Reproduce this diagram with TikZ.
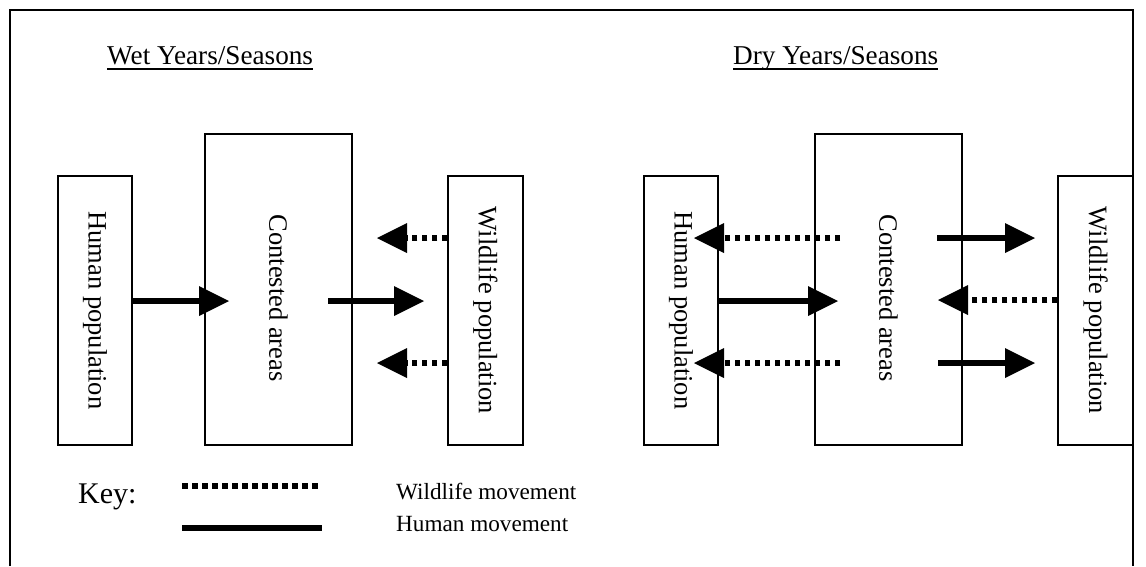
\documentclass[tikz,border=0pt]{standalone}
\usepackage{fontspec}
\setmainfont{Liberation Serif}
\usetikzlibrary{arrows.meta,calc}
\begin{document}
\begin{tikzpicture}[x=1pt,y=-1pt,
  box/.style={draw, line width=1.2pt, inner sep=0pt, font=\fontsize{26.5}{30}\selectfont},
  tipshape/.style={-{Triangle[length=30pt,width=30pt,line width=0pt]}},
  human/.style={line width=5.5pt, tipshape},
  wild/.style={line width=5.5pt, dash pattern=on 5.5pt off 4.5pt, tipshape},
  title/.style={inner sep=0pt, anchor=base west, font=\fontsize{27.2}{30}\selectfont},
  keytext/.style={inner sep=0pt, anchor=base west, font=\fontsize{23.2}{26}\selectfont},
]
\useasboundingbox (0,0) rectangle (1146,566);

% outer frame
\draw[line width=1.2pt] (10,566) -- (10,10) -- (1133,10) -- (1133,566);

% headings
\node[title] (wt) at (107,64) {Wet Years/Seasons};
\node[title] (dt) at (733,64) {Dry Years/Seasons};
\draw[line width=1.3pt] ([yshift=-5pt]wt.base west) -- ([yshift=-5pt]wt.base east);
\draw[line width=1.3pt] ([yshift=-5pt]dt.base west) -- ([yshift=-5pt]dt.base east);

% wet season boxes
\node[box, minimum width=74pt, minimum height=269pt] (wh) at (95,310.5) {\rotatebox{-90}{Human population}};
\node[box, minimum width=147pt, minimum height=311pt] (wc) at (278.5,289.5) {};
\node[box, minimum width=75pt, minimum height=269pt] (ww) at (485.5,310.5) {\rotatebox{-90}{Wildlife population}};
\node[inner sep=0pt, font=\fontsize{26.5}{30}\selectfont] (wcl) at (278.5,298) {\rotatebox{-90}{Contested areas}};

% dry season boxes
\node[box, minimum width=74pt, minimum height=269pt] (dh) at (681,310.5) {\rotatebox{-90}{Human population}};
\node[box, minimum width=147pt, minimum height=311pt] (dc) at (888.5,289.5) {};
\node[box, minimum width=75pt, minimum height=269pt] (dw) at (1095.5,310.5) {\rotatebox{-90}{Wildlife population}};
\node[inner sep=0pt, font=\fontsize{26.5}{30}\selectfont] (dcl) at (888.5,298) {\rotatebox{-90}{Contested areas}};

% free arrow ends
\coordinate (w1) at (229,301);
\coordinate (w2s) at (328,301);
\coordinate (w2) at (424,301);
\coordinate (w3) at (377,238);
\coordinate (w4) at (377,363);

\coordinate (d1s) at (840,238);
\coordinate (d1) at (694,238);
\coordinate (d2s) at (937,238);
\coordinate (d2) at (1035,238);
\coordinate (d3) at (838,301);
\coordinate (d4) at (938,300);
\coordinate (d5s) at (840,363);
\coordinate (d5) at (694,363);
\coordinate (d6s) at (938,363);
\coordinate (d6) at (1035,363);

% wet season movements
\draw[human] (wh.east |- w1) -- (w1);
\draw[human] (w2s) -- (w2);
\draw[wild] (ww.west |- w3) -- (w3);
\draw[wild] (ww.west |- w4) -- (w4);

% dry season movements
\draw[wild] (d1s) -- (d1);
\draw[human] (d2s) -- (d2);
\draw[human] (dh.east |- d3) -- (d3);
\draw[wild] (dw.west |- d4) -- (d4);
\draw[wild] (d5s) -- (d5);
\draw[human] (d6s) -- (d6);

% key
\node[inner sep=0pt, anchor=base west, font=\fontsize{30}{34}\selectfont] (key) at (78,503) {Key:};
\coordinate (k1a) at (182,486);
\coordinate (k1b) at (322,486);
\coordinate (k2a) at (182,528);
\coordinate (k2b) at (322,528);
\draw[line width=5.5pt, dash pattern=on 5.5pt off 4.5pt] (k1a) -- (k1b);
\draw[line width=6pt] (k2a) -- (k2b);
\node[keytext] (kw) at (396,499) {Wildlife movement};
\node[keytext] (kh) at (396,531) {Human movement};
\end{tikzpicture}
\end{document}
